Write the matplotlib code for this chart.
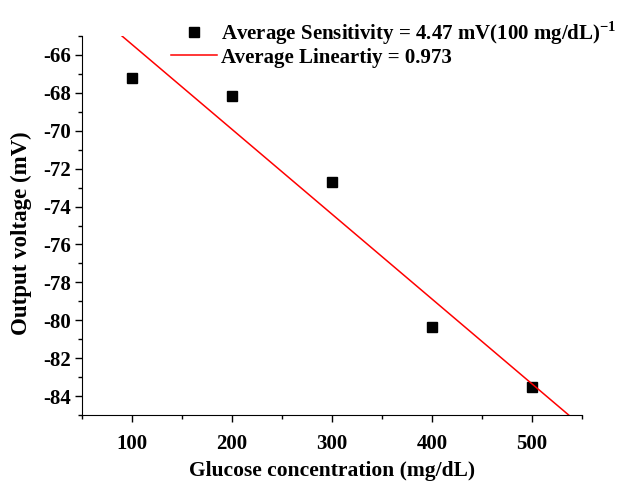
import numpy as np
import matplotlib
matplotlib.use("Agg")
import matplotlib.pyplot as plt
from matplotlib.ticker import MultipleLocator

plt.rcParams['font.family'] = ['Liberation Serif', 'DejaVu Serif']
plt.rcParams['font.weight'] = 'bold'
plt.rcParams['axes.unicode_minus'] = False
plt.rcParams['mathtext.fontset'] = 'custom'
plt.rcParams['mathtext.rm'] = 'Liberation Serif:bold'
plt.rcParams['mathtext.bf'] = 'Liberation Serif:bold'

# glucose concentration (mg/dL) vs output voltage (mV)
glucose = [100, 200, 300, 400, 500]
voltage = [-67.23, -68.19, -72.71, -80.35, -83.54]

# linear fit of the points
slope, intercept = np.polyfit(glucose, voltage, 1)
fit_x = np.array([50, 550])
fit_y = slope * fit_x + intercept

fig = plt.figure(figsize=(6.28, 4.86), dpi=100)
ax = fig.add_axes([0.1306, 0.1461, 0.7962, 0.7798])

ax.plot(glucose, voltage, 's', color='black', ms=7.5,
        label='Average Sensitivity = 4.47 mV(100 mg/dL)$^{-1}$')
ax.plot(fit_x, fit_y, '-', color='red', lw=1.1,
        label='Average Lineartiy = 0.973')

ax.set_xlim(50, 550)
ax.set_ylim(-85, -65)
ax.xaxis.set_major_locator(MultipleLocator(100))
ax.xaxis.set_minor_locator(MultipleLocator(50))
ax.yaxis.set_major_locator(MultipleLocator(2))
ax.yaxis.set_minor_locator(MultipleLocator(1))

ax.spines['top'].set_visible(False)
ax.spines['right'].set_visible(False)
ax.tick_params(which='major', direction='out', length=5, width=1, labelsize=15)
ax.tick_params(which='minor', direction='out', length=3, width=1)
ax.tick_params(axis='x', pad=9)
ax.tick_params(axis='y', pad=3)

ax.set_xlabel('Glucose concentration (mg/dL)', fontsize=15.5, fontweight='bold', labelpad=5)
ax.set_ylabel('Output voltage (mV)', fontsize=16.5, fontweight='bold')
ax.yaxis.set_label_coords(-0.1, 0.48)

ax.legend(loc='upper left', bbox_to_anchor=(0.178, 1.045), frameon=False,
          fontsize=15, handlelength=2.2, handletextpad=0.2,
          labelspacing=0.05, borderpad=0, borderaxespad=0)

fig.savefig('out.png', dpi=100)
